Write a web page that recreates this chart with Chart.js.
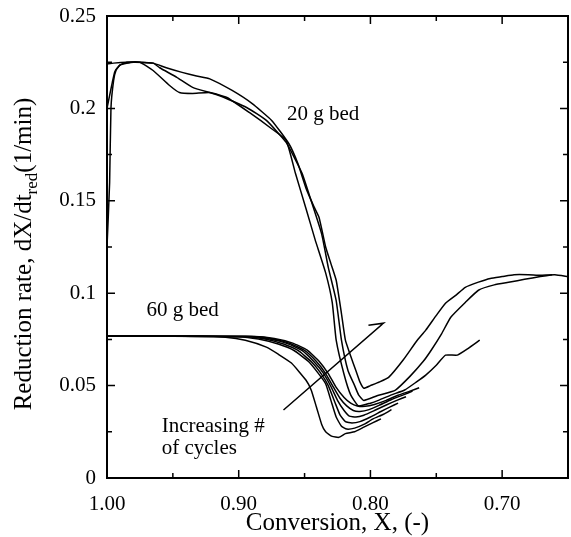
<!DOCTYPE html>
<html>
<head>
<meta charset="utf-8">
<script src="https://cdn.jsdelivr.net/npm/chart.js@4.4.1/dist/chart.umd.min.js"></script>
<style>
    body { margin: 0; background: #fff; }
    #wrap { width: 571px; height: 537px; }
</style>
</head>
<body>
<div id="wrap"><canvas id="rate-chart" width="571" height="537"></canvas></div>
<script>
// 20 g bed, three cycles (conversion X, rate dX/dt)
const bed20aX = [1.000, 0.995, 0.985, 0.975, 0.965, 0.955, 0.943, 0.932, 0.922, 0.905, 0.890, 0.875, 0.862, 0.855, 0.849, 0.843, 0.839, 0.834, 0.830, 0.826, 0.822, 0.819, 0.815, 0.811, 0.808, 0.805, 0.800, 0.793, 0.786, 0.775, 0.765, 0.758, 0.750, 0.743, 0.735, 0.728, 0.718, 0.709, 0.700, 0.691, 0.680, 0.671, 0.660, 0.650];
const bed20aY = [0.224, 0.2245, 0.225, 0.225, 0.2245, 0.222, 0.2195, 0.2175, 0.216, 0.2097, 0.2027, 0.1935, 0.181, 0.170, 0.157, 0.147, 0.141, 0.125, 0.116, 0.107, 0.089, 0.0746, 0.066, 0.058, 0.052, 0.0486, 0.050, 0.052, 0.0546, 0.064, 0.074, 0.080, 0.088, 0.0946, 0.099, 0.1032, 0.106, 0.108, 0.109, 0.110, 0.110, 0.1097, 0.110, 0.109];

const bed20bX = [1.000, 0.998, 0.996, 0.994, 0.990, 0.980, 0.965, 0.960, 0.947, 0.935, 0.915, 0.894, 0.879, 0.864, 0.852, 0.845, 0.837, 0.832, 0.826, 0.822, 0.817, 0.812, 0.809, 0.805, 0.795, 0.781, 0.770, 0.760, 0.754, 0.746, 0.739, 0.728, 0.718, 0.706, 0.694, 0.683, 0.671, 0.662];
const bed20bY = [0.200, 0.207, 0.214, 0.220, 0.2235, 0.2250, 0.2245, 0.222, 0.2168, 0.2114, 0.207, 0.2005, 0.1935, 0.1816, 0.165, 0.150, 0.132, 0.114, 0.096, 0.0746, 0.058, 0.050, 0.045, 0.042, 0.0445, 0.0476, 0.055, 0.063, 0.069, 0.078, 0.087, 0.095, 0.1016, 0.1045, 0.106, 0.1075, 0.109, 0.110];

const bed20cX = [1.000, 0.998, 0.997, 0.995, 0.993, 0.990, 0.985, 0.975, 0.965, 0.9525, 0.945, 0.935, 0.922, 0.909, 0.892, 0.875, 0.864, 0.857, 0.849, 0.842, 0.834, 0.829, 0.826, 0.820, 0.815, 0.809, 0.800, 0.794, 0.784, 0.774, 0.765, 0.758, 0.750, 0.743, 0.734, 0.726, 0.717];
const bed20cY = [0.125, 0.160, 0.200, 0.215, 0.221, 0.2235, 0.225, 0.225, 0.2205, 0.2124, 0.2086, 0.2081, 0.2086, 0.2059, 0.1978, 0.189, 0.1827, 0.165, 0.146, 0.129, 0.111, 0.095, 0.0746, 0.056, 0.045, 0.039, 0.0405, 0.042, 0.045, 0.0476, 0.052, 0.0557, 0.061, 0.0665, 0.0665, 0.070, 0.0746];

// 60 g bed, six cycles
const bed60aX = [1.000, 0.930, 0.910, 0.895, 0.879, 0.870, 0.860, 0.849, 0.845, 0.841, 0.837, 0.834, 0.829, 0.824, 0.819, 0.812, 0.805, 0.798, 0.792];
const bed60aY = [0.0768, 0.0768, 0.0762, 0.0745, 0.0708, 0.0670, 0.0622, 0.0530, 0.0476, 0.0384, 0.0290, 0.0250, 0.0225, 0.0220, 0.0240, 0.0250, 0.0275, 0.0300, 0.0320];

const bed60bX = [1.000, 0.900, 0.885, 0.870, 0.858, 0.847, 0.840, 0.834, 0.830, 0.826, 0.822, 0.818, 0.812, 0.805, 0.798, 0.790, 0.784];
const bed60bY = [0.0768, 0.0765, 0.0752, 0.0725, 0.0690, 0.0630, 0.0570, 0.0510, 0.0420, 0.0330, 0.0280, 0.0265, 0.0270, 0.0290, 0.0320, 0.0345, 0.0370];

const bed60cX = [1.000, 0.895, 0.880, 0.866, 0.855, 0.845, 0.838, 0.832, 0.827, 0.823, 0.819, 0.814, 0.808, 0.800, 0.792, 0.785, 0.779];
const bed60cY = [0.0768, 0.0766, 0.0752, 0.0725, 0.0690, 0.0630, 0.0570, 0.0500, 0.0410, 0.0340, 0.0305, 0.0298, 0.0305, 0.0330, 0.0360, 0.0385, 0.0405];

const bed60dX = [1.000, 0.892, 0.877, 0.863, 0.852, 0.843, 0.836, 0.830, 0.825, 0.820, 0.816, 0.811, 0.805, 0.797, 0.788, 0.780, 0.773];
const bed60dY = [0.0768, 0.0766, 0.0753, 0.0727, 0.0690, 0.0630, 0.0570, 0.0495, 0.0420, 0.0365, 0.0335, 0.0330, 0.0340, 0.0365, 0.0395, 0.0420, 0.0440];

const bed60eX = [1.000, 0.890, 0.875, 0.861, 0.850, 0.841, 0.834, 0.828, 0.823, 0.818, 0.813, 0.808, 0.801, 0.793, 0.784, 0.775, 0.768];
const bed60eY = [0.0768, 0.0766, 0.0754, 0.0728, 0.0690, 0.0630, 0.0565, 0.0490, 0.0430, 0.0390, 0.0365, 0.0360, 0.0370, 0.0395, 0.0425, 0.0450, 0.0470];

const bed60fX = [1.000, 0.888, 0.873, 0.859, 0.848, 0.839, 0.832, 0.826, 0.820, 0.815, 0.810, 0.804, 0.797, 0.788, 0.779, 0.770, 0.763];
const bed60fY = [0.0768, 0.0766, 0.0755, 0.0730, 0.0692, 0.0632, 0.0565, 0.0490, 0.0435, 0.0405, 0.0390, 0.0388, 0.0398, 0.0420, 0.0448, 0.0470, 0.0488];

// "Increasing # of cycles" arrow: tail, tip, barb end
const arrowX = [0.866, 0.790, 0.8015];
const arrowY = [0.0368, 0.0838, 0.0827];

// text labels in data coordinates (left edge, baseline)
const labelTexts = ["20 g bed", "60 g bed", "Increasing #", "of cycles"];
const labelX = [0.8634, 0.970, 0.9585, 0.9585];
const labelY = [0.1935, 0.0876, 0.0249, 0.0130];

const SERIF = "'Liberation Serif', 'Times New Roman', serif";

function toPoints(xs, ys) {
    return xs.map((x, i) => ({ x: x, y: ys[i] }));
}

function curve(xs, ys) {
    return {
        data: toPoints(xs, ys),
        showLine: true,
        borderColor: '#000',
        borderWidth: 1.5,
        pointRadius: 0,
        tension: 0.15,
        fill: false
    };
}

// frame, inward ticks, arrow, labels and the y title with its subscript
const decorPlugin = {
    id: 'decor',
    afterDraw(chart) {
        const ctx = chart.ctx;
        const area = chart.chartArea;
        const xs = chart.scales.x;
        const ys = chart.scales.y;

        ctx.save();
        ctx.strokeStyle = '#000';
        ctx.lineWidth = 2;
        ctx.strokeRect(area.left, area.top, area.right - area.left, area.bottom - area.top);

        ctx.lineWidth = 1.5;
        ctx.beginPath();
        xs.ticks.forEach(t => {
            const px = xs.getPixelForValue(t.value);
            const len = Math.round(t.value * 100) % 10 === 0 ? 8 : 5;
            ctx.moveTo(px, area.bottom); ctx.lineTo(px, area.bottom - len);
            ctx.moveTo(px, area.top); ctx.lineTo(px, area.top + len);
        });
        ys.ticks.forEach(t => {
            const py = ys.getPixelForValue(t.value);
            const len = Math.round(t.value * 1000) % 50 === 0 ? 8 : 5;
            ctx.moveTo(area.left, py); ctx.lineTo(area.left + len, py);
            ctx.moveTo(area.right, py); ctx.lineTo(area.right - len, py);
        });
        ctx.stroke();

        // arrow
        ctx.beginPath();
        ctx.moveTo(xs.getPixelForValue(arrowX[0]), ys.getPixelForValue(arrowY[0]));
        ctx.lineTo(xs.getPixelForValue(arrowX[1]), ys.getPixelForValue(arrowY[1]));
        ctx.lineTo(xs.getPixelForValue(arrowX[2]), ys.getPixelForValue(arrowY[2]));
        ctx.stroke();

        ctx.fillStyle = '#000';
        ctx.font = '21px ' + SERIF;
        ctx.textAlign = 'left';
        ctx.textBaseline = 'alphabetic';
        labelTexts.forEach((txt, i) => {
            ctx.fillText(txt, xs.getPixelForValue(labelX[i]), ys.getPixelForValue(labelY[i]));
        });

        // x title
        ctx.font = '25px ' + SERIF;
        ctx.textAlign = 'center';
        ctx.fillText('Conversion, X, (-)', (area.left + area.right) / 2, 530);

        // y title, rotated, with "red" subscript
        const main = 'Reduction rate, dX/dt';
        const sub = 'red';
        const tail = '(1/min)';
        ctx.translate(31, 254);
        ctx.rotate(-Math.PI / 2);
        ctx.textAlign = 'left';
        ctx.font = '25px ' + SERIF;
        const w1 = ctx.measureText(main).width;
        const w3 = ctx.measureText(tail).width;
        ctx.font = '17px ' + SERIF;
        const w2 = ctx.measureText(sub).width;
        let x0 = -(w1 + w2 + w3) / 2;
        ctx.font = '25px ' + SERIF;
        ctx.fillText(main, x0, 0);
        ctx.font = '17px ' + SERIF;
        ctx.fillText(sub, x0 + w1, 6);
        ctx.font = '25px ' + SERIF;
        ctx.fillText(tail, x0 + w1 + w2, 0);
        ctx.restore();
    }
};

const ctx = document.getElementById('rate-chart').getContext('2d');

new Chart(ctx, {
    type: 'scatter',
    data: {
        datasets: [
            curve(bed20aX, bed20aY),
            curve(bed20bX, bed20bY),
            curve(bed20cX, bed20cY),
            curve(bed60aX, bed60aY),
            curve(bed60bX, bed60bY),
            curve(bed60cX, bed60cY),
            curve(bed60dX, bed60dY),
            curve(bed60eX, bed60eY),
            curve(bed60fX, bed60fY)
        ]
    },
    options: {
        responsive: false,
        animation: false,
        layout: { padding: { left: 0, right: 3, top: 16, bottom: 0 } },
        plugins: {
            legend: { display: false },
            tooltip: { enabled: false }
        },
        scales: {
            x: {
                type: 'linear',
                reverse: true,
                min: 0.65,
                max: 1.0,
                afterFit: s => {
                    s.height = 59;
                    s.paddingLeft = 0;
                    s.paddingRight = 0;
                },
                grid: { display: false, drawTicks: false },
                border: { display: false },
                ticks: {
                    stepSize: 0.05,
                    autoSkip: false,
                    maxRotation: 0,
                    padding: 14,
                    color: '#000',
                    font: { family: SERIF, size: 21 },
                    callback: v => Math.round(v * 100) % 10 === 0 ? v.toFixed(2) : ''
                }
            },
            y: {
                min: 0,
                max: 0.25,
                afterFit: s => {
                    s.width = 107;
                    s.paddingTop = 0;
                    s.paddingBottom = 0;
                },
                grid: { display: false, drawTicks: false },
                border: { display: false },
                ticks: {
                    stepSize: 0.025,
                    autoSkip: false,
                    padding: 11,
                    color: '#000',
                    font: { family: SERIF, size: 21 },
                    callback: v => Math.round(v * 1000) % 50 === 0 ? String(Math.round(v * 100) / 100) : ''
                }
            }
        }
    },
    plugins: [decorPlugin]
});
</script>
</body>
</html>
